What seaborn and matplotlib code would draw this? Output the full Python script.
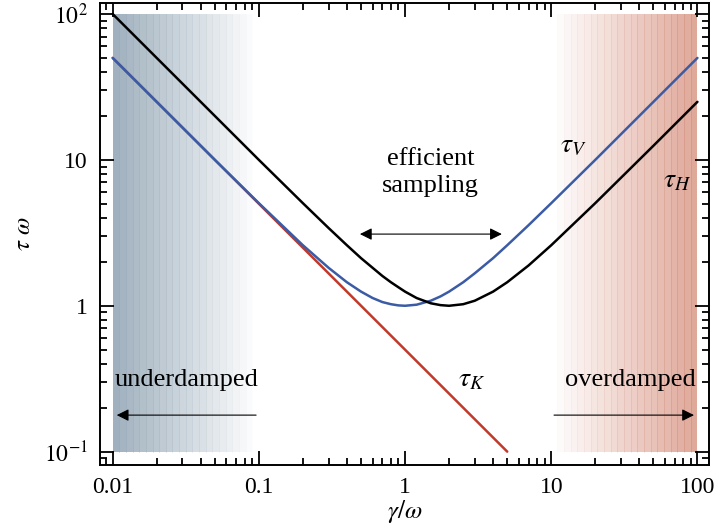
import numpy as np
import matplotlib
matplotlib.use("Agg")
import matplotlib.pyplot as plt
import seaborn as sns
from matplotlib.ticker import FixedLocator, NullFormatter, LogLocator

# values (gamma / omega on x, tau * omega on y)
gamma = [0.01, 0.02, 0.05, 0.1, 0.2, 0.3, 0.4, 0.5, 0.6, 0.7, 0.8, 0.9, 1.0,
         1.2, 1.5, 1.75, 2.0, 2.5, 3.0, 4.0, 5.0, 7.0, 10, 20, 50, 100]
tau_V = [50.0, 25.0, 10.0, 5.05, 2.6, 1.82, 1.45, 1.25, 1.13, 1.06, 1.025, 1.006, 1.0,
         1.017, 1.083, 1.16, 1.25, 1.45, 1.67, 2.12, 2.6, 3.57, 5.05, 10.0, 25.0, 50.0]
tau_H = [100.0, 50.0, 20.0, 10.0, 5.05, 3.41, 2.6, 2.12, 1.82, 1.6, 1.45, 1.34, 1.25,
         1.13, 1.04, 1.01, 1.0, 1.025, 1.083, 1.25, 1.45, 1.89, 2.6, 5.05, 12.5, 25.0]
gamma_K = [0.01, 0.1, 1.0, 5.0]
tau_K = [50.0, 5.0, 0.5, 0.1]

x_ticks = [0.01, 0.1, 1, 10, 100]
x_labels = ["0.01", "0.1", "1", "10", "100"]
y_ticks = [0.1, 1, 10, 100]
y_labels = [r"$10^{-1}$", "1", "10", r"$10^{2}$"]

sns.set_theme(style="ticks")
plt.rcParams["font.family"] = ["Liberation Serif", "DejaVu Serif"]
plt.rcParams["mathtext.fontset"] = "stix"
plt.rcParams["axes.linewidth"] = 1.4
plt.rcParams["text.color"] = "black"
plt.rcParams["axes.labelcolor"] = "black"
plt.rcParams["xtick.color"] = "black"
plt.rcParams["ytick.color"] = "black"

fig = plt.figure(figsize=(7.15, 5.25), dpi=100)
ax = fig.add_axes([0.140, 0.1143, 0.8516, 0.880])
ax.set_xscale("log")
ax.set_yscale("log")

# shaded regimes, drawn as stepped bands with faint separators
n_band = 21
left_edges = np.logspace(-2, np.log10(0.09), n_band + 1)
for i in range(n_band):
    a = 0.85 * (1 - i / n_band)
    ax.fill_between([left_edges[i], left_edges[i + 1]], 0.1, 100,
                    color=(0.56, 0.64, 0.70), alpha=a, lw=0, zorder=0)
    ax.plot([left_edges[i + 1]] * 2, [0.1, 100], color=(0.45, 0.53, 0.60),
            alpha=min(1, a * 0.35), lw=0.7, zorder=0)
right_edges = np.logspace(np.log10(11), 2, n_band + 1)
for i in range(n_band):
    a = 0.68 * (i + 1) / n_band
    ax.fill_between([right_edges[i], right_edges[i + 1]], 0.1, 100,
                    color=(0.82, 0.50, 0.42), alpha=a, lw=0, zorder=0)
    ax.plot([right_edges[i]] * 2, [0.1, 100], color=(0.75, 0.40, 0.32),
            alpha=min(1, a * 0.35), lw=0.7, zorder=0)

sns.lineplot(x=gamma_K, y=tau_K, ax=ax, color="#c0392b", lw=1.8, sort=False, estimator=None)
sns.lineplot(x=gamma, y=tau_V, ax=ax, color="#3b5ba5", lw=1.8, sort=False, estimator=None)
sns.lineplot(x=gamma, y=tau_H, ax=ax, color="black", lw=1.8, sort=False, estimator=None)

ax.set_xlim(0.0082, 120)
ax.set_ylim(0.081, 119)

ax.xaxis.set_major_locator(FixedLocator(x_ticks))
ax.set_xticklabels(x_labels)
ax.yaxis.set_major_locator(FixedLocator(y_ticks))
ax.set_yticklabels(y_labels)
ax.xaxis.set_minor_locator(LogLocator(base=10, subs=np.arange(2, 10), numticks=20))
ax.yaxis.set_minor_locator(LogLocator(base=10, subs=np.arange(2, 10), numticks=20))
ax.xaxis.set_minor_formatter(NullFormatter())
ax.yaxis.set_minor_formatter(NullFormatter())
ax.tick_params(which="both", direction="in", top=True, right=True, labelsize=17,
               color="black", width=1.3)
ax.tick_params(which="major", length=10, pad=9)
ax.tick_params(which="minor", length=5)
for s in ax.spines.values():
    s.set_color("black")

ax.set_xlabel(r"$\gamma/\omega$", fontsize=18, labelpad=0)
ax.set_ylabel(r"$\tau\ \omega$", fontsize=18, labelpad=6)

fs = 19
ax.text(0.0103, 0.31, "underdamped", fontsize=fs, ha="left", va="center")
ax.text(98, 0.31, "overdamped", fontsize=fs, ha="right", va="center")
ax.text(1.5, 8.2, "efficient\nsampling", fontsize=fs, ha="center", va="center",
        linespacing=1.25)
ax.text(11.5, 12.5, r"$\tau_V$", fontsize=20, ha="left", va="center")
ax.text(58, 7.2, r"$\tau_H$", fontsize=20, ha="left", va="center")
ax.text(2.3, 0.31, r"$\tau_K$", fontsize=20, ha="left", va="center")

arrow = dict(arrowstyle="-|>", color="black", lw=0.8, mutation_scale=18)
ax.annotate("", xy=(0.0102, 0.178), xytext=(0.1, 0.178), arrowprops=arrow)
ax.annotate("", xy=(99, 0.178), xytext=(10, 0.178), arrowprops=arrow)
ax.annotate("", xy=(0.47, 3.1), xytext=(4.8, 3.1),
            arrowprops=dict(arrowstyle="<|-|>", color="black", lw=0.8,
                            mutation_scale=18))

fig.savefig("out.png", dpi=100)
